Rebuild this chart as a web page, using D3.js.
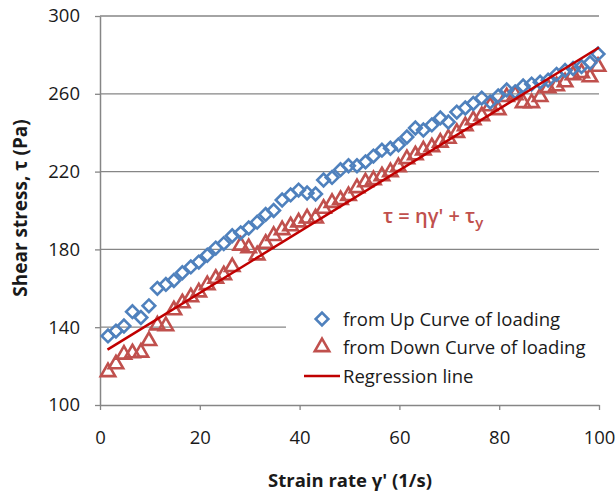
<!DOCTYPE html>
<html>
<head>
<meta charset="utf-8">
<script src="https://cdn.jsdelivr.net/npm/d3@7"></script>
<style>
  html, body { margin: 0; padding: 0; background: #fff; }
  svg { display: block; }
  text { font-family: "Open Sans", Lato, sans-serif; }
</style>
</head>
<body>
<svg id="chart" width="616" height="497"></svg>
<script>
// Strain rate (1/s) at which each measurement was taken
const strainRate = [1.6, 3.2, 4.8, 6.5, 8.2, 9.8, 11.5, 13.2, 14.8, 16.5,
  18.2, 19.8, 21.5, 23.2, 24.8, 26.5, 28.2, 29.8, 31.5, 33.2,
  34.8, 36.5, 38.2, 39.8, 41.5, 43.2, 44.8, 46.5, 48.2, 49.8,
  51.5, 53.2, 54.8, 56.5, 58.2, 59.8, 61.5, 63.2, 64.8, 66.5,
  68.2, 69.8, 71.5, 73.2, 74.8, 76.5, 78.2, 79.8, 81.5, 83.2,
  84.8, 86.5, 88.2, 89.8, 91.5, 93.2, 94.8, 96.5, 98.2, 99.8];

// Shear stress (Pa) read on the loading up-curve
const upCurve = [135.5, 138, 140.6, 148, 145, 151, 160, 162, 164, 168,
  171, 173.5, 177, 180.7, 183, 187, 188.5, 191, 194, 198,
  200, 205.4, 208, 210.5, 209, 208.5, 215.7, 217, 221, 223,
  223, 225, 228, 231, 232, 233.7, 237.8, 242.4, 241.4, 244,
  247.6, 245.5, 250.6, 252.7, 255, 257.8, 255.8, 258.9, 262, 261,
  264, 265, 266, 267, 270, 272, 273, 274, 276, 280.5];

// Shear stress (Pa) read on the loading down-curve
const downCurve = [117, 121, 126, 126.7, 127, 133, 141, 140.6, 148.8, 152.4,
  155.5, 158, 161.7, 165, 166.8, 171, 182, 180.7, 177, 183,
  187, 190, 192, 194, 196, 196, 201, 204, 205.5, 207.5,
  211.6, 214.6, 215.7, 217.7, 219.8, 222.4, 226.5, 228.5, 231, 232.6,
  235, 237, 240, 243.4, 246.5, 248.6, 253.7, 251.7, 258.4, 259.4,
  255.3, 255.3, 258.4, 263, 264, 266, 269.7, 270.7, 268.6, 274];

// Bingham fit  tau = eta * gamma' + tau_y
const eta = 1.577;
const tauY = 126.1;
const regressionRange = [1.5, 100];

const xTicks = [0, 20, 40, 60, 80, 100];
const yTicks = [100, 140, 180, 220, 260, 300];

const legendLabels = ["from Up Curve of loading", "from Down Curve of loading", "Regression line"];

const blue = "#4f81bd";
const red = "#c0504d";
const darkRed = "#c00000";
const gridGray = "#868686";
const textColor = "#1a1a1a";

const svg = d3.select("#chart");
const plot = { left: 100, right: 599, top: 16, bottom: 405 };

const x = d3.scaleLinear().domain([0, 100]).range([plot.left, plot.right]);
const y = d3.scaleLinear().domain([100, 300]).range([plot.bottom, plot.top]);

// horizontal gridlines
svg.append("g")
  .selectAll("line")
  .data(yTicks.filter(d => d > 100))
  .join("line")
  .attr("x1", plot.left).attr("x2", plot.right)
  .attr("y1", d => y(d)).attr("y2", d => y(d))
  .attr("stroke", gridGray).attr("stroke-width", 1.3);

// y axis
const yAxis = svg.append("g")
  .attr("transform", `translate(${plot.left},0)`)
  .call(d3.axisLeft(y).tickValues(yTicks).tickSize(5).tickPadding(15).tickSizeOuter(0));

// x axis
const xAxis = svg.append("g")
  .attr("transform", `translate(0,${plot.bottom})`)
  .call(d3.axisBottom(x).tickValues(xTicks).tickSize(5).tickPadding(21).tickSizeOuter(0));

[yAxis, xAxis].forEach(ax => {
  ax.select(".domain").attr("stroke", gridGray).attr("stroke-width", 1.5);
  ax.selectAll(".tick line").attr("stroke", gridGray).attr("stroke-width", 1.3);
  ax.selectAll(".tick text")
    .attr("fill", textColor)
    .style("font-size", "18.5px")
    .style("font-family", "'Open Sans', sans-serif");
});

// regression line
const regLine = d3.line().x(d => x(d)).y(d => y(eta * d + tauY));

// data markers
const diamond = d3.symbol().type(d3.symbolSquare).size(80);
const triangle = d3.symbol().type(d3.symbolTriangle).size(90);

svg.append("g")
  .selectAll("path")
  .data(strainRate.map((g, i) => [g, downCurve[i]]))
  .join("path")
  .attr("d", triangle)
  .attr("transform", d => `translate(${x(d[0])},${y(d[1])})`)
  .attr("fill", "none")
  .attr("stroke", red)
  .attr("stroke-width", 2.6);

svg.append("g")
  .selectAll("path")
  .data(strainRate.map((g, i) => [g, upCurve[i]]))
  .join("path")
  .attr("d", diamond)
  .attr("transform", d => `translate(${x(d[0])},${y(d[1])}) rotate(45)`)
  .attr("fill", "none")
  .attr("stroke", blue)
  .attr("stroke-width", 2.6);

svg.append("path")
  .attr("d", regLine(regressionRange))
  .attr("fill", "none")
  .attr("stroke", darkRed)
  .attr("stroke-width", 2.5);

// equation label
const eq = svg.append("text")
  .attr("x", 383).attr("y", 223)
  .attr("fill", red)
  .style("font-size", "20px")
  .style("font-weight", "600");
eq.append("tspan").text("τ = ηγ' + τ");
eq.append("tspan").attr("dy", 5).style("font-size", "15px").text("y");

// legend
const legend = svg.append("g");
legend.append("rect")
  .attr("x", 286).attr("y", 300).attr("width", 313).attr("height", 92)
  .attr("fill", "#fff");
const rowY = [319, 347, 376];
legend.append("path")
  .attr("d", diamond)
  .attr("transform", `translate(322,${rowY[0]}) rotate(45)`)
  .attr("fill", "none").attr("stroke", blue).attr("stroke-width", 2.6);
legend.append("path")
  .attr("d", triangle)
  .attr("transform", `translate(322,${rowY[1]})`)
  .attr("fill", "none").attr("stroke", red).attr("stroke-width", 2.6);
legend.append("line")
  .attr("x1", 304).attr("x2", 340).attr("y1", rowY[2]).attr("y2", rowY[2])
  .attr("stroke", darkRed).attr("stroke-width", 2.5);
legend.selectAll("text.lbl")
  .data(legendLabels)
  .join("text")
  .attr("class", "lbl")
  .attr("x", 343)
  .attr("y", (d, i) => rowY[i])
  .attr("dy", "0.36em")
  .attr("fill", textColor)
  .style("font-size", "18.5px")
  .text(d => d);

// axis titles
svg.append("text")
  .attr("x", 350).attr("y", 487)
  .attr("text-anchor", "middle")
  .attr("fill", textColor)
  .style("font-size", "18.5px")
  .style("font-weight", "bold")
  .text("Strain rate γ' (1/s)");

svg.append("text")
  .attr("transform", "translate(27,208) rotate(-90)")
  .attr("text-anchor", "middle")
  .attr("fill", textColor)
  .style("font-size", "19px")
  .style("font-weight", "bold")
  .text("Shear stress, τ (Pa)");
</script>
</body>
</html>
